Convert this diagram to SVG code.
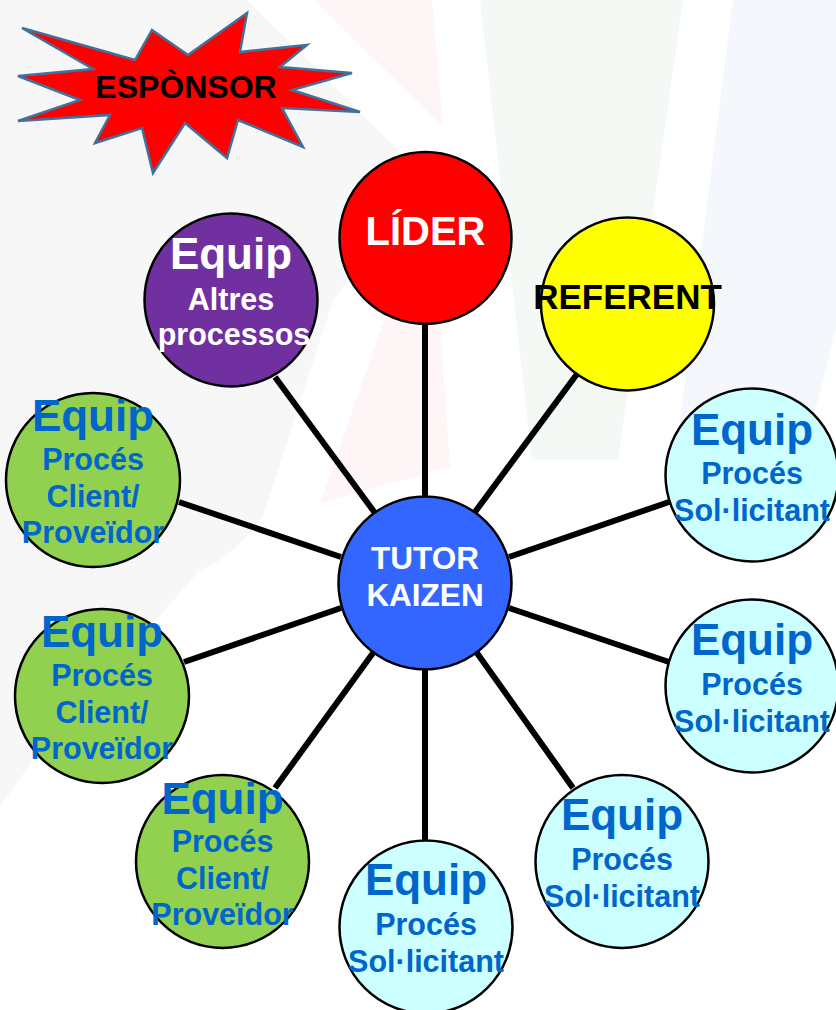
<svg xmlns="http://www.w3.org/2000/svg" width="836" height="1010" viewBox="0 0 836 1010">
  <defs>
    <style>
      .node { stroke: #000000; stroke-width: 2.5; }
      .link { stroke: #000000; stroke-width: 6; stroke-linecap: butt; }
      text { font-family: "Liberation Sans", Arial, sans-serif; font-weight: bold; text-anchor: middle; }
      .big { font-size: 44px; }
      .mid { font-size: 30.5px; }
      .blue { fill: #0066cc; }
      .white { fill: #ffffff; }
      .black { fill: #000000; }
    </style>
  </defs>

  <!-- faint background watermark -->
  <g id="background">
    <rect x="0" y="0" width="836" height="1010" fill="#ffffff"/>
    <path d="M0,0 L247,0 L400,152 L380,240 L333,300 L263,517 Q230,560 200,570 L150,627 L100,693 L33,760 L0,807 Z" fill="#f7f7f8"/>
    <polygon points="314,0 432,0 443,127" fill="#fef6f6"/>
    <polygon points="320,503 385,318 440,318 450,467" fill="#fef6f6"/>
    <polygon points="480,0 683,0 618,460 532,460" fill="#f5f9f6"/>
    <polygon points="733,0 836,0 836,330 800,470 670,470 680,420" fill="#f4f7fb"/>
  </g>

  <!-- sponsor burst -->
  <g id="sponsor">
    <polygon points="22,28 135,60 152,30 188,55 247,13 240,52 307,45 280,67 352,73 292,90 360,112 282,108 303,147 238,120 227,158 185,123 153,173 142,128 95,143 110,115 18,121 80,100 18,76 93,69" fill="#ff0000" stroke="#41719c" stroke-width="2.5" stroke-linejoin="miter"/>
    <text x="186" y="98" class="black" style="font-size:32px">ESPÒNSOR</text>
  </g>

  <!-- connectors from the central node -->
  <g id="connectors">
    <line class="link" x1="425" y1="324" x2="425" y2="497"/>
    <line class="link" x1="275" y1="377" x2="375" y2="513"/>
    <line class="link" x1="577" y1="374" x2="475" y2="512"/>
    <line class="link" x1="669" y1="502" x2="509" y2="557"/>
    <line class="link" x1="179" y1="502" x2="341" y2="557"/>
    <line class="link" x1="184" y1="662" x2="341" y2="608"/>
    <line class="link" x1="669" y1="662" x2="509" y2="608"/>
    <line class="link" x1="275" y1="788" x2="373" y2="653"/>
    <line class="link" x1="425" y1="670" x2="425" y2="840"/>
    <line class="link" x1="573" y1="788" x2="477" y2="653"/>
  </g>

  <g id="lider">
    <circle class="node" cx="425.5" cy="238" r="86" fill="#ff0000"/>
    <text x="425.5" y="245" class="white" style="font-size:40px">LÍDER</text>
  </g>

  <g id="equip-altres">
    <circle class="node" cx="231" cy="300" r="86.5" fill="#7030a0"/>
    <text x="231" y="269" class="white big">Equip</text>
    <text x="231" y="310" class="white mid">Altres</text>
    <text x="234" y="345" class="white mid">processos</text>
  </g>

  <g id="referent">
    <circle class="node" cx="627.5" cy="304" r="86.5" fill="#ffff00"/>
    <text x="627.5" y="309" class="black" style="font-size:35px">REFERENT</text>
  </g>

  <g id="equip-sol-1">
    <circle class="node" cx="752" cy="475" r="86.5" fill="#ccffff"/>
    <text x="752" y="445" class="blue big">Equip</text>
    <text x="752" y="484" class="blue mid">Procés</text>
    <text x="752" y="521" class="blue mid">Sol·licitant</text>
  </g>

  <g id="equip-client-1">
    <circle class="node" cx="93" cy="480" r="87" fill="#92d050"/>
    <text x="93" y="431" class="blue big">Equip</text>
    <text x="93" y="470" class="blue mid">Procés</text>
    <text x="93" y="507" class="blue mid">Client/</text>
    <text x="93" y="543" class="blue mid">Proveïdor</text>
  </g>

  <g id="tutor">
    <circle class="node" cx="425" cy="583" r="86.5" fill="#3366ff"/>
    <text x="425" y="569" class="white" style="font-size:31.5px">TUTOR</text>
    <text x="425" y="606" class="white" style="font-size:31.5px">KAIZEN</text>
  </g>

  <g id="equip-client-2">
    <circle class="node" cx="102" cy="696" r="87" fill="#92d050"/>
    <text x="102" y="647" class="blue big">Equip</text>
    <text x="102" y="686" class="blue mid">Procés</text>
    <text x="102" y="723" class="blue mid">Client/</text>
    <text x="102" y="759" class="blue mid">Proveïdor</text>
  </g>

  <g id="equip-sol-2">
    <circle class="node" cx="752" cy="686" r="86.5" fill="#ccffff"/>
    <text x="752" y="655" class="blue big">Equip</text>
    <text x="752" y="695" class="blue mid">Procés</text>
    <text x="752" y="732" class="blue mid">Sol·licitant</text>
  </g>

  <g id="equip-client-3">
    <circle class="node" cx="222.5" cy="861.5" r="86.5" fill="#92d050"/>
    <text x="222.5" y="814" class="blue big">Equip</text>
    <text x="222.5" y="852" class="blue mid">Procés</text>
    <text x="222.5" y="889" class="blue mid">Client/</text>
    <text x="222.5" y="925" class="blue mid">Proveïdor</text>
  </g>

  <g id="equip-sol-3">
    <circle class="node" cx="426" cy="927" r="86.5" fill="#ccffff"/>
    <text x="426" y="895" class="blue big">Equip</text>
    <text x="426" y="935" class="blue mid">Procés</text>
    <text x="426" y="972" class="blue mid">Sol·licitant</text>
  </g>

  <g id="equip-sol-4">
    <circle class="node" cx="622" cy="861.5" r="86.5" fill="#ccffff"/>
    <text x="622" y="830" class="blue big">Equip</text>
    <text x="622" y="870" class="blue mid">Procés</text>
    <text x="622" y="907" class="blue mid">Sol·licitant</text>
  </g>
</svg>
